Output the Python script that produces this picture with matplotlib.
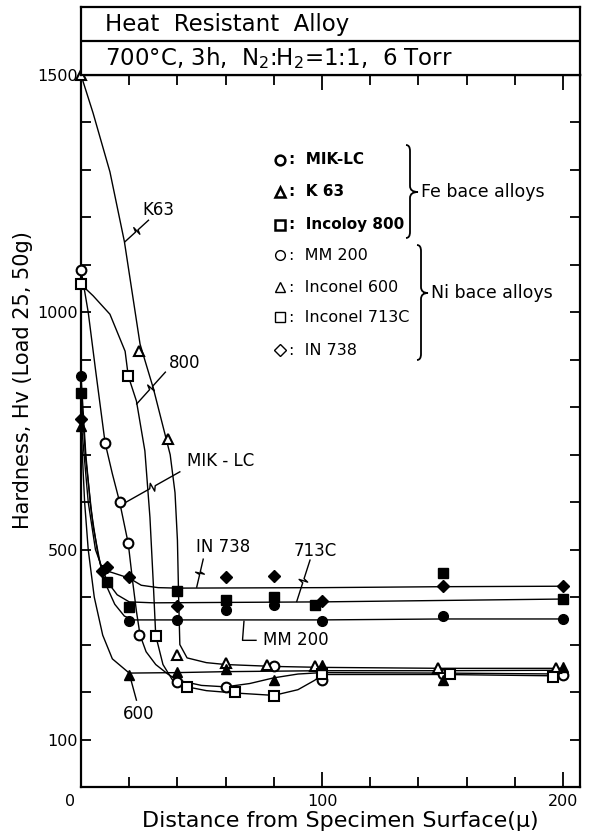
import numpy as np
import matplotlib
matplotlib.use('Agg')
import matplotlib.pyplot as plt
from matplotlib.lines import Line2D
from matplotlib.path import Path
from matplotlib.patches import PathPatch

# ---- measured points (distance in micron, hardness Hv) ----
mik_x = [0, 10, 16, 19.6, 24, 40, 60, 80, 100, 150, 200]
mik_v = [1090, 725, 601, 513, 320, 222, 211, 254, 225, 239, 236]
k63_x = [0, 24, 36, 40, 60, 77, 97, 148, 197]
k63_v = [1500, 918, 733, 279, 262, 256, 254, 250, 250]
inc800_x = [0, 19.6, 31, 44, 64, 80, 100, 153, 196]
inc800_v = [1059, 866, 319, 211, 201, 192, 239, 239, 232]
mm200_x = [0, 20, 40, 60, 80, 100, 150, 200]
mm200_v = [866, 350, 352, 373, 383, 350, 361, 354]
in600_x = [0, 20, 40, 60, 80, 100, 150, 200]
in600_v = [760, 236, 243, 248, 225, 256, 225, 253]
in713_x = [0, 10.7, 20, 40, 60, 80, 97, 150, 200]
in713_v = [830, 432, 380, 412, 393, 400, 384, 451, 396]
in738_x = [0, 8.6, 10.7, 20, 40, 60, 80, 100, 150, 200]
in738_v = [775, 456, 463, 442, 382, 442, 444, 392, 423, 423]

# ---- hand drawn curves ----
mik_cx = [0, 3, 6, 10, 13, 16, 19.6, 21.5, 23, 24.5, 27, 31, 36, 40, 50, 60, 70, 80, 90, 100, 150, 200]
mik_cv = [1090, 1000, 880, 725, 660, 601, 513, 430, 370, 320, 285, 258, 238, 225, 214, 211, 218, 230, 238, 241, 240, 238]
k63_cx = [0, 5, 12, 18, 24.5, 30, 34, 37, 39, 40, 40.5, 41, 44, 52, 60, 80, 100, 150, 200]
k63_cv = [1500, 1420, 1296, 1149, 933, 840, 760, 700, 620, 520, 400, 300, 272, 262, 258, 254, 252, 250, 250]
inc800_cx = [0, 5, 12, 18.3, 19.6, 23, 26.5, 28.6, 30, 31, 34, 38, 44, 52, 64, 80, 90, 97, 100, 150, 200]
inc800_cv = [1059, 1035, 996, 918, 866, 813, 708, 568, 428, 319, 258, 225, 211, 203, 198, 193, 205, 225, 237, 237, 234]
mm200_cx = [0, 2, 4, 7, 10, 14, 18, 22, 40, 100, 150, 200]
mm200_cv = [866, 700, 590, 490, 430, 385, 360, 352, 352, 352, 354, 354]
in600_cx = [0, 1.5, 3, 5.5, 9, 13, 20, 40, 60, 100, 150, 200]
in600_cv = [760, 600, 500, 400, 320, 270, 240, 241, 243, 245, 245, 246]
in713_cx = [0, 2, 5, 8, 11, 15, 20, 30, 100, 150, 200]
in713_cv = [830, 690, 550, 470, 432, 405, 390, 388, 390, 393, 396]
in738_cx = [0, 3, 6, 9, 14, 20, 25, 32, 40, 100, 150, 200]
in738_cv = [775, 600, 500, 458, 450, 440, 425, 420, 419, 420, 422, 423]

W, H = 591, 834
fig = plt.figure(figsize=(W / 100, H / 100), dpi=100)
plt.rcParams['font.family'] = 'DejaVu Sans'

def P(x, y):
    return x / W, 1 - y / H

L, R, B, T = 81 / W, 580 / W, 1 - 787 / H, 1 - 75 / H
ax = fig.add_axes([L, B, R - L, T - B])
head = fig.add_axes([L, T, R - L, (75 - 7) / H])

# header box
head.set_xlim(0, 1)
head.set_ylim(0, 2)
head.axhline(1, color='k', lw=1.6)
head.set_xticks([])
head.set_yticks([])
for s in head.spines.values():
    s.set_linewidth(1.6)
head.text(0.048, 1.48, 'Heat  Resistant  Alloy', fontsize=16.5, va='center')
head.text(0.048, 0.5, '700°C, 3h,  N$_2$:H$_2$=1:1,  6 Torr', fontsize=16.5, va='center')

# curves
for cx, cv in [(mik_cx, mik_cv), (k63_cx, k63_cv), (inc800_cx, inc800_cv), (mm200_cx, mm200_cv),
               (in600_cx, in600_cv), (in713_cx, in713_cv), (in738_cx, in738_cv)]:
    ax.plot(cx, cv, color='k', lw=1.0)

# markers
ms = 7
open_kw = dict(ls='none', mfc='white', mec='k', mew=1.5, ms=ms, clip_on=False, zorder=4)
fill_kw = dict(ls='none', mfc='k', mec='k', mew=1.0, ms=ms, clip_on=False, zorder=5)
ax.plot(mik_x, mik_v, marker='o', **open_kw)
ax.plot(k63_x, k63_v, marker='^', **open_kw)
ax.plot(inc800_x, inc800_v, marker='s', **dict(open_kw, ms=6.5))
ax.plot(mm200_x, mm200_v, marker='o', **fill_kw)
ax.plot(in600_x, in600_v, marker='^', **fill_kw)
ax.plot(in713_x, in713_v, marker='s', **dict(fill_kw, ms=6.5))
ax.plot(in738_x, in738_v, marker='D', **dict(fill_kw, ms=6.5))

ax.set_xlim(0, 207)
ax.set_ylim(0, 1500)
ax.set_xticks([0, 100, 200])
ax.set_xticklabels(['', '100', '200'])
ax.set_xticks(np.arange(20, 201, 20), minor=True)
ax.set_yticks([100, 500, 1000, 1500])
ax.set_yticks(np.arange(100, 1500, 100), minor=True)
ax.tick_params(axis='both', which='both', direction='in', top=True, right=True, width=1.3, labelsize=11.5)
ax.tick_params(axis='x', which='major', length=11, pad=5)
ax.tick_params(axis='x', which='minor', length=7)
ax.tick_params(axis='y', which='both', length=7, pad=2)
for s in ax.spines.values():
    s.set_linewidth(1.6)
ax.text(-4.5, -14, '0', fontsize=11.5, ha='center', va='top')
fig.text(*P(340, 821), 'Distance from Specimen Surface(μ)', fontsize=16, ha='center', va='center')
fig.text(*P(23, 380), 'Hardness, Hv (Load 25, 50g)', fontsize=15, ha='center', va='center', rotation=90)

# leader lines
def to_px(x, v):
    return ax.transData.transform((x, v))

def zigzag(p0, p1):
    a, b = np.array(to_px(*p0)), np.array(to_px(*p1))
    d = b - a
    n = np.array([-d[1], d[0]]) / np.hypot(*d)
    pts = [a, a + 0.45 * d, a + 0.5 * d + 4.5 * n, a + 0.5 * d - 4.5 * n, a + 0.55 * d, b]
    pts = ax.transData.inverted().transform(np.array(pts))
    ax.plot(pts[:, 0], pts[:, 1], color='k', lw=1.0, clip_on=False)

ann_fs = 12
ax.text(32, 1216, 'K63', fontsize=ann_fs, ha='center', va='center')
zigzag((28, 1194), (18.3, 1149))
ax.text(43, 893, '800', fontsize=ann_fs, ha='center', va='center')
zigzag((35, 874), (23.1, 807))
ax.text(58, 687, 'MIK - LC', fontsize=ann_fs, ha='center', va='center')
zigzag((41, 664), (18.3, 599))
ax.text(59, 506, 'IN 738', fontsize=ann_fs, ha='center', va='center')
zigzag((50.7, 480), (48, 421))
ax.text(97, 498, '713C', fontsize=ann_fs, ha='center', va='center')
zigzag((95, 478), (89.5, 391))
ax.text(89, 309, 'MM 200', fontsize=ann_fs, ha='center', va='center')
ax.plot([67.6, 67, 72.6], [349, 309, 309], color='k', lw=1.0)
ax.text(24, 153, '600', fontsize=ann_fs, ha='center', va='center')
ax.plot([23, 20.7], [183, 226], color='k', lw=1.0)

# legend
leg_y = [160, 192, 225, 255, 287, 317, 350]
leg_m = ['o', '^', 's', 'o', '^', 's', 'D']
leg_t = ['MIK-LC', 'K 63', 'Incoloy 800', 'MM 200', 'Inconel 600', 'Inconel 713C', 'IN 738']
for i, (yy, m, t) in enumerate(zip(leg_y, leg_m, leg_t)):
    fe = i < 3
    msz = 7 if m != 'D' else 6.5
    fig.add_artist(Line2D([P(280, yy)[0]], [P(280, yy)[1]], marker=m, ms=msz, mfc='white',
                          mec='k', mew=1.8 if fe else 1.0, transform=fig.transFigure))
    fig.text(*P(289, yy), ':  ' + t, fontsize=11 if fe else 11.5, va='center',
             fontweight='bold' if fe else 'normal')

def brace(x, y0, y1, ym, tip):
    verts = [P(x - 4, y0), P(x, y0), P(x, y0 + 6), P(x, ym - 6), P(x, ym), P(tip, ym),
             P(x, ym), P(x, ym + 6), P(x, y1 - 6), P(x, y1), P(x - 4, y1)]
    codes = [Path.MOVETO, Path.CURVE3, Path.CURVE3, Path.LINETO, Path.CURVE3, Path.CURVE3,
             Path.CURVE3, Path.CURVE3, Path.LINETO, Path.CURVE3, Path.CURVE3]
    fig.add_artist(PathPatch(Path(verts, codes), fc='none', ec='k', lw=1.3,
                             transform=fig.transFigure))

brace(410, 145, 238, 192, 418)
fig.text(*P(421, 192), 'Fe bace alloys', fontsize=12.5, va='center')
brace(421, 245, 360, 293, 428)
fig.text(*P(431, 293), 'Ni bace alloys', fontsize=12.5, va='center')

fig.savefig('out.png', dpi=100)
